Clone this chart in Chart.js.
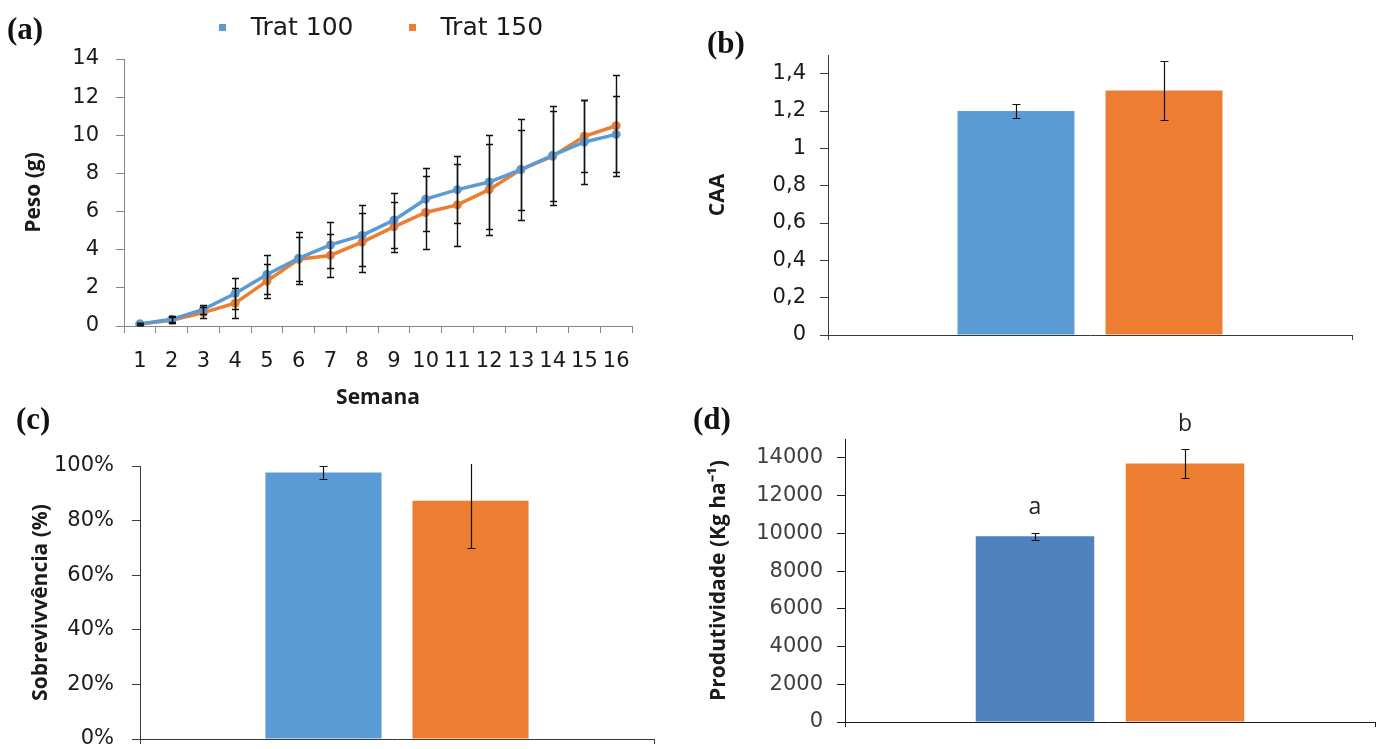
<!DOCTYPE html>
<html>
<head>
<meta charset="utf-8">
<script src="https://cdn.jsdelivr.net/npm/chart.js@4.4.0/dist/chart.umd.min.js"></script>
<style>
    html, body { margin: 0; padding: 0; background: #fff; overflow: hidden; width: 1381px; height: 749px; }
    .panel { position: absolute; }
</style>
</head>
<body>
<div class="panel" style="left:0px;top:0px"><canvas id="chartA" width="680" height="420"></canvas></div>
<div class="panel" style="left:690px;top:0px"><canvas id="chartB" width="691" height="380"></canvas></div>
<div class="panel" style="left:0px;top:400px"><canvas id="chartC" width="680" height="370"></canvas></div>
<div class="panel" style="left:690px;top:400px"><canvas id="chartD" width="691" height="370"></canvas></div>
<script>
// --- data ---
const seriesNames = ['Trat 100', 'Trat 150'];
const weeks = ['1', '2', '3', '4', '5', '6', '7', '8', '9', '10', '11', '12', '13', '14', '15', '16'];
const peso100 = [0.1, 0.35, 0.87, 1.7, 2.7, 3.55, 4.25, 4.75, 5.55, 6.65, 7.15, 7.55, 8.2, 8.95, 9.65, 10.05];
const peso100Err = [0.05, 0.15, 0.25, 0.8, 1.0, 1.37, 1.2, 1.6, 1.45, 1.65, 1.75, 2.45, 2.65, 2.6, 2.2, 2.0];
const peso150 = [0.1, 0.3, 0.7, 1.2, 2.35, 3.5, 3.7, 4.4, 5.2, 5.95, 6.35, 7.15, 8.2, 8.9, 9.95, 10.5];
const peso150Err = [0.05, 0.15, 0.3, 0.8, 0.9, 1.15, 1.15, 1.55, 1.3, 1.9, 2.15, 2.4, 2.1, 2.35, 1.9, 2.65];
const pesoTicks = [0, 2, 4, 6, 8, 10, 12, 14];

const caa = [1.2, 1.31];
const caaErr = [0.04, 0.16];
const caaTicks = [0, 0.2, 0.4, 0.6, 0.8, 1, 1.2, 1.4];

const sobrevivencia = [97.6, 87.3];
const sobrevivenciaErr = [2.4, 17.4];
const sobrevivenciaTicks = [0, 20, 40, 60, 80, 100];

const produtividade = [9850, 13700];
const produtividadeErr = [180, 770];
const produtividadeLetters = ['a', 'b'];
const produtividadeTicks = [0, 2000, 4000, 6000, 8000, 10000, 12000, 14000];

const BLUE = '#5B9BD5';
const BLUE_D = '#4F81BD';
const ORANGE = '#ED7D31';
const FONT = "'Open Sans', sans-serif";
const TICK_FONT = "'DejaVu Sans', sans-serif";

Chart.defaults.font.family = FONT;
Chart.defaults.animation = false;
Chart.defaults.plugins.legend.display = false;
Chart.defaults.plugins.tooltip.enabled = false;

// Draws error bars from dataset.errors using the chart's own y scale
const errorBars = {
    id: 'errorBars',
    afterDatasetsDraw(chart, args, opts) {
        const {ctx, chartArea, scales} = chart;
        const y = scales.y;
        const cap = opts.cap || 4;
        ctx.save();
        ctx.beginPath();
        ctx.rect(chartArea.left, chartArea.top - 2, chartArea.width, chartArea.height + 4);
        ctx.clip();
        ctx.strokeStyle = opts.color || '#000';
        ctx.lineWidth = opts.width || 1;
        chart.data.datasets.forEach((ds, i) => {
            if (!ds.errors) return;
            const meta = chart.getDatasetMeta(i);
            meta.data.forEach((el, j) => {
                const v = ds.data[j];
                const e = ds.errors[j];
                const top = Math.round(y.getPixelForValue(v + e)) + 0.5;
                const bot = Math.round(y.getPixelForValue(v - e)) + 0.5;
                const x = Math.round(el.x) + 0.5;
                ctx.beginPath();
                ctx.moveTo(x, top); ctx.lineTo(x, bot);
                ctx.moveTo(x - cap, top); ctx.lineTo(x + cap, top);
                ctx.moveTo(x - cap, bot); ctx.lineTo(x + cap, bot);
                ctx.stroke();
            });
        });
        ctx.restore();
    }
};

// Panel tag like (a), (b)...
const panelTag = {
    id: 'panelTag',
    afterDraw(chart, args, opts) {
        if (!opts.text) return;
        const ctx = chart.ctx;
        ctx.save();
        ctx.font = 'bold 31px "Liberation Serif", "Times New Roman", serif';
        ctx.fillStyle = '#111';
        ctx.textAlign = 'left';
        ctx.textBaseline = 'middle';
        ctx.fillText(opts.text, opts.x, opts.y);
        ctx.restore();
    }
};

// Letters above the error bars (significance)
const sigLetters = {
    id: 'sigLetters',
    afterDatasetsDraw(chart, args, opts) {
        const {ctx, scales} = chart;
        ctx.save();
        ctx.font = '23px ' + FONT;
        ctx.fillStyle = '#222';
        ctx.textAlign = 'center';
        ctx.textBaseline = 'middle';
        chart.data.datasets.forEach((ds, i) => {
            if (!ds.letters) return;
            const meta = chart.getDatasetMeta(i);
            meta.data.forEach((el, j) => {
                const top = scales.y.getPixelForValue(ds.data[j] + (ds.errors ? ds.errors[j] : 0));
                ctx.fillText(ds.letters[j], el.x, top - 25);
            });
        });
        ctx.restore();
    }
};

// Legend drawn above panel (a), centered on the plot area
const topLegend = {
    id: 'topLegend',
    afterDraw(chart, args, opts) {
        if (!opts.display) return;
        const {ctx, chartArea} = chart;
        ctx.save();
        ctx.font = '25px ' + TICK_FONT;
        ctx.textBaseline = 'middle';
        const items = chart.data.datasets.map(ds => ({text: ds.label, color: ds.borderColor, w: ctx.measureText(ds.label).width}));
        const sq = 7, gapText = 25, gapItem = 55;
        let total = 0;
        items.forEach((it, i) => { total += sq + gapText + it.w + (i < items.length - 1 ? gapItem : 0); });
        let x = (chartArea.left + chartArea.right) / 2 + 3 - total / 2;
        items.forEach(it => {
            ctx.fillStyle = it.color;
            ctx.fillRect(Math.round(x), Math.round(opts.y - sq / 2), sq, sq);
            x += sq + gapText;
            ctx.fillStyle = '#1a1a1a';
            ctx.fillText(it.text, x, opts.y + 1);
            x += it.w + gapItem;
        });
        ctx.restore();
    }
};

function fixedTicks(list) {
    return scale => {
        scale.ticks = list.map(v => ({value: v}));
    };
}

function yAxis(o) {
    return {
        min: 0,
        max: o.max,
        afterBuildTicks: fixedTicks(o.ticks),
        afterFit: s => { s.width = o.width; },
        border: {color: o.axisColor, width: 1},
        grid: {drawOnChartArea: false, drawTicks: true, tickLength: 8, color: o.axisColor},
        ticks: {
            padding: o.pad,
            color: o.labelColor || '#1a1a1a',
            font: {family: TICK_FONT, size: 21},
            callback: o.format
        },
        title: {
            display: true,
            text: o.title,
            color: '#1a1a1a',
            font: {size: 21, weight: 'bold'},
            padding: {top: o.titlePad, bottom: 0}
        }
    };
}

function barPanel(id, o) {
    const datasets = seriesNames.map((name, i) => ({
        label: name,
        data: [o.values[i]],
        errors: [o.errors[i]],
        letters: o.letters ? [o.letters[i]] : undefined,
        backgroundColor: o.colors[i],
        borderWidth: 0,
        categoryPercentage: o.catPct,
        barPercentage: 0.79
    }));
    return new Chart(document.getElementById(id), {
        type: 'bar',
        data: {labels: [''], datasets: datasets},
        plugins: [errorBars, panelTag, sigLetters],
        options: {
            responsive: false,
            layout: {padding: {top: o.padTop, right: o.padRight, left: 0, bottom: 0}},
            scales: {
                x: {
                    offset: true,
                    border: {color: o.axisColor, width: 1},
                    grid: {offset: true, drawOnChartArea: false, tickLength: 5, color: o.axisColor},
                    ticks: {display: false},
                    afterFit: s => { s.height = o.xHeight; }
                },
                y: yAxis(o)
            },
            plugins: {
                errorBars: {cap: 4, width: 1.2, color: '#111'},
                panelTag: o.tag
            }
        }
    });
}

// (a) Peso por semana
new Chart(document.getElementById('chartA'), {
    type: 'line',
    data: {
        labels: weeks,
        datasets: [{
            label: seriesNames[0],
            data: peso100,
            errors: peso100Err,
            borderColor: BLUE,
            backgroundColor: BLUE,
            borderWidth: 3.5,
            pointRadius: 4.5,
            pointBorderWidth: 0,
            pointBackgroundColor: BLUE,
            tension: 0
        }, {
            label: seriesNames[1],
            data: peso150,
            errors: peso150Err,
            borderColor: ORANGE,
            backgroundColor: ORANGE,
            borderWidth: 3.5,
            pointRadius: 4.5,
            pointBorderWidth: 0,
            pointBackgroundColor: ORANGE,
            tension: 0
        }]
    },
    plugins: [errorBars, panelTag, topLegend],
    options: {
        responsive: false,
        layout: {padding: {top: 59, right: 48, left: 0, bottom: 0}},
        scales: {
            x: {
                offset: true,
                border: {color: '#868686', width: 1},
                grid: {offset: true, drawOnChartArea: false, tickLength: 7, color: '#868686'},
                ticks: {padding: 16, maxRotation: 0, autoSkip: false, color: '#1a1a1a', font: {family: TICK_FONT, size: 21}},
                title: {display: true, text: 'Semana', color: '#1a1a1a', font: {size: 21, weight: 'bold'}, padding: {top: 0, bottom: 9}},
                afterFit: s => { s.height = 94; }
            },
            y: yAxis({max: 14, ticks: pesoTicks, width: 124, pad: 17, axisColor: '#868686', title: 'Peso (g)', titlePad: 21,
                format: v => String(v)})
        },
        plugins: {
            errorBars: {cap: 3.5, width: 1.4, color: '#111'},
            panelTag: {text: '(a)', x: 7, y: 31},
            topLegend: {display: true, y: 27}
        }
    }
});

// (b) CAA
barPanel('chartB', {
    values: caa, errors: caaErr, colors: [BLUE, ORANGE],
    max: 1.5, ticks: caaTicks, width: 138, pad: 14, axisColor: '#3a3a3a',
    title: 'CAA', titlePad: 15,
    format: v => String(Math.round(v * 10) / 10).replace('.', ','),
    catPct: 0.565, padTop: 55, padRight: 29, xHeight: 45,
    tag: {text: '(b)', x: 17, y: 45}
});

// (c) Sobrevivência
barPanel('chartC', {
    values: sobrevivencia, errors: sobrevivenciaErr, colors: [BLUE, ORANGE],
    max: 100, ticks: sobrevivenciaTicks, width: 140, pad: 18, axisColor: '#3a3a3a',
    title: 'Sobrevivvência (%)', titlePad: 28,
    format: v => v + '%',
    catPct: 0.572, padTop: 66, padRight: 26, xHeight: 31,
    tag: {text: '(c)', x: 16, y: 21}
});

// (d) Produtividade
barPanel('chartD', {
    values: produtividade, errors: produtividadeErr, letters: produtividadeLetters, colors: [BLUE_D, ORANGE],
    max: 15000, ticks: produtividadeTicks, width: 155, pad: 14, axisColor: '#1a1a1a', labelColor: '#404040',
    title: 'Produtividade (Kg ha\u207B\u00B9)', titlePad: 16,
    format: v => String(v),
    catPct: 0.566, padTop: 39, padRight: 6, xHeight: 48,
    tag: {text: '(d)', x: 3, y: 21}
});
</script>
</body>
</html>
